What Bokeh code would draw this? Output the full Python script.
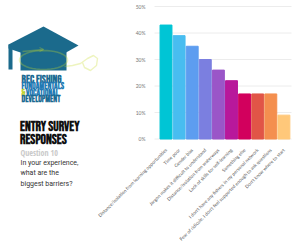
import math
from bokeh.plotting import figure
from bokeh.models import ColumnDataSource, Range1d, Label, PolyAnnotation, FixedTicker
from bokeh.embed import file_html
from bokeh.resources import INLINE

# ---- data ----
categories = [
    "Distance/isolation from learning opportunities",
    "Time poor",
    "Gender bias",
    "Jargon makes it difficult to understand",
    "Distance/isolation from waterways",
    "Lack of skills for self-learning",
    "Something else",
    "I don't have any fishers in my personal network",
    "Fear of ridicule, I don't feel supported enough to ask questions",
    "Don't know where to start",
]
values = [43, 39, 35, 30, 26, 22, 17, 17, 17, 9]
bar_colors = ["#00c5d5", "#48bdf0", "#5d9df0", "#7b7fe0", "#9a56c8",
              "#b8189b", "#d2005d", "#e15547", "#f48f4f", "#ffc87a"]
y_ticks = [0, 10, 20, 30, 40, 50]
y_tick_labels = ["0%", "10%", "20%", "30%", "40%", "50%"]

W, H = 300, 251
X0, PITCH = 165.5, 13.1
Y0, PPV = 138.5, 2.65

pos = list(range(len(categories)))
x_range = Range1d(-X0 / PITCH, (W - X0) / PITCH)
y_range = Range1d(-(H - Y0) / PPV, Y0 / PPV)

p = figure(width=W, height=H, x_range=x_range, y_range=y_range,
           output_backend="svg", toolbar_location=None, min_border=0,
           outline_line_color=None)
p.xgrid.grid_line_color = None
p.ygrid.grid_line_color = None

gx0 = (154 - X0) / PITCH
gx1 = (291 - X0) / PITCH
p.segment(x0=[gx0] * len(y_ticks), x1=[gx1] * len(y_ticks), y0=y_ticks, y1=y_ticks,
          line_color="#ececec", line_width=1)

src = ColumnDataSource(dict(x=pos, val=values, color=bar_colors))
p.vbar(x="x", top="val", width=0.91, color="color", source=src)

p.yaxis.fixed_location = (155 - X0) / PITCH
p.xaxis.fixed_location = 0
p.yaxis.ticker = FixedTicker(ticks=y_ticks)
p.yaxis.major_label_overrides = {t: l for t, l in zip(y_ticks, y_tick_labels)}
p.xaxis.ticker = FixedTicker(ticks=pos)
p.xaxis.major_label_overrides = {i: c for i, c in zip(pos, categories)}
for ax in (p.xaxis, p.yaxis):
    ax.axis_line_color = None
    ax.major_tick_line_color = None
    ax.minor_tick_line_color = None
    ax.major_label_text_font = "Lato"
    ax.major_label_text_color = "#777777"
p.yaxis.major_label_text_font_size = "5px"
p.yaxis.major_label_standoff = 4
p.xaxis.major_label_text_font_size = "4.7px"
p.xaxis.major_label_text_color = "#555555"
p.xaxis.major_label_orientation = math.pi / 4
p.xaxis.major_label_standoff = 4


def sx(x):
    return x


def sy(y):
    return H - y


def poly(pts, fill=None, line=None, lw=1.0):
    p.add_layout(PolyAnnotation(xs=[sx(a) for a, b in pts], ys=[sy(b) for a, b in pts],
                                xs_units="screen", ys_units="screen",
                                fill_color=fill, fill_alpha=1 if fill else 0,
                                line_color=line, line_width=lw))


def path(pts, color, lw):
    poly(pts + pts[::-1], None, color, lw)


def label(x, y, text, size, color, font="Roboto", style="normal"):
    p.add_layout(Label(x=sx(x), y=sy(y), x_units="screen", y_units="screen", text=text,
                       text_font_size=size, text_color=color, text_font=font,
                       text_font_style=style, text_baseline="middle", text_align="left"))


# ---- logo: mortarboard ----
CAP = "#1b6a8c"
LINE = "#c8da2a"
poly([(20, 50), (66, 50), (66, 70), (20, 70)], CAP)
poly([(8, 44), (43, 26), (78, 45), (62, 54), (20, 52), (8, 48)], CAP)
poly([(8, 44), (12, 46), (12, 69), (8, 69)], CAP)
oval = []
for i in range(0, 41):
    t = 2 * math.pi * i / 40
    oval.append((43 + 24 * math.cos(t), 59.5 + 9.5 * math.sin(t)))
poly(oval, None, LINE, 1.6)
path([(22, 51), (43, 49)], LINE, 1.4)
path([(39, 47), (43, 49), (39, 51)], LINE, 1.2)
tail = [(64, 66), (72, 65), (80, 63), (87, 58), (93, 55), (97, 58), (96, 65),
        (90, 70), (84, 67), (82, 62)]
path(tail, LINE, 1.4)

# ---- logo text ----
BEB = "'Bebas Neue', 'Open Sans Condensed', sans-serif"
label(21, 78.5, "REC FISHING", "11px", "#1b6a92", BEB, "bold")
label(21, 86, "FUNDAMENTALS", "9px", "#2179b3", BEB, "bold")
label(21, 92.7, "&", "9px", "#bcd02a", BEB, "bold")
label(25.5, 92.7, "VOCATIONAL", "9px", "#2179b3", BEB, "bold")
label(21, 99.4, "DEVELOPMENT", "9px", "#1b6a92", BEB, "bold")

# ---- title text ----
label(19.5, 126.5, "ENTRY SURVEY", "13.5px", "#111111", BEB, "bold")
label(19.5, 139.5, "RESPONSES", "13.5px", "#111111", BEB, "bold")
label(20, 152, "Question 10", "8px", "#c9c9c9", "Open Sans Condensed", "bold")
label(20, 162.5, "In your experience,", "7px", "#333333")
label(20, 172.5, "what are the", "7px", "#333333")
label(20, 183, "biggest barriers?", "7px", "#333333")

open("out.html", "w").write(file_html(p, INLINE))
